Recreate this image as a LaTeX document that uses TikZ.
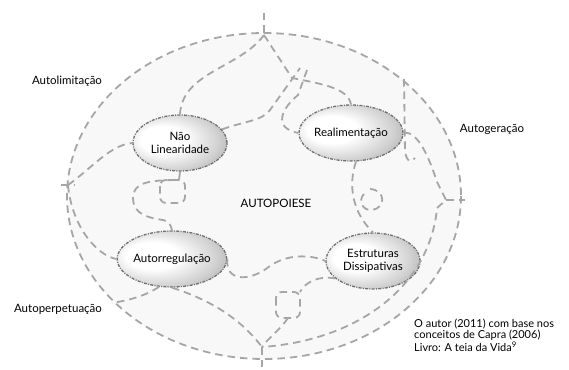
\documentclass[tikz,border=0pt]{standalone}
\usepackage{fontspec}
\setmainfont{Lato}
\usetikzlibrary{shapes.geometric}
\definecolor{dashgray}{HTML}{A6A6A6}
\definecolor{rimgray}{HTML}{707070}
\definecolor{discgray}{HTML}{F8F8F8}
\pgfdeclareradialshading{bub}{\pgfpoint{-12bp}{4bp}}{%
  color(0bp)=(white); color(12bp)=(white); color(26bp)=(black!18);
  color(40bp)=(black!42); color(50bp)=(black!50)}
\tikzset{
  dl/.style={draw=dashgray, line width=1.8pt, dash pattern=on 7.5pt off 5pt},
  bubble/.style={ellipse, draw=rimgray, line width=1.3pt,
    dash pattern=on 3pt off 1.3pt on 1pt off 1.3pt,
    shading=bub,
    minimum width=94pt, minimum height=56pt, inner sep=0pt, align=center,
    font=\fontsize{11.5}{12.5}\selectfont},
  lbl/.style={font=\fontsize{11.5}{13}\selectfont, inner sep=0pt}
}
\begin{document}
\begin{tikzpicture}[x=1pt,y=-1pt]
\useasboundingbox (0,0) rectangle (569,369);
\fill[white] (0,0) rectangle (569,369);
% outer ellipse
\fill[discgray] (264,196) ellipse [x radius=197, y radius=163];
\draw[dl] (264,196) ellipse [x radius=197, y radius=163];
% junction points
\coordinate (T) at (264,35);
\coordinate (Ttop) at (264,13);
\coordinate (B) at (262,347);
\coordinate (Bbot) at (262,369);
\coordinate (L) at (68,185);
\coordinate (Lout) at (61,185);
\coordinate (R) at (446,200);
\coordinate (Rout) at (465,200);
\coordinate (Rv) at (404,79);
% nodes
\node[bubble] (nl) at (180,143) {Não\\Linearidade};
\node[bubble] (re) at (351,133) {Realimentação};
\node[bubble] (ar) at (172,259) {Autorregulação};
\node[bubble] (ed) at (373,261) {Estruturas\\Dissipativas};
\node[lbl] (ap) at (276,203) {AUTOPOIESE};
\node[lbl] (al) at (67,81) {Autolimitação};
\node[lbl] (ag) at (492,129) {Autogeração};
\node[lbl] (apv) at (58,309) {Autoperpetuação};
\node[lbl, anchor=north west, align=left, font=\fontsize{11}{9.4}\selectfont] (cr) at (414,319)
  {O autor (2011) com base nos\\conceitos de Capra (2006)\\Livro: A teia da Vida\textsuperscript{9}};
% ticks
\draw[dl] (Ttop) -- (T);
\draw[dl] (B) -- (Bbot);
\draw[dl] (Lout) -- (75,185);
\draw[dl] (R) -- (Rout);
% top connectors
\draw[dl] (T) .. controls (240,68) and (182,72) .. (nl.north);
\draw[dl] (T) -- (292,78) .. controls (322,84) and (348,88) .. (re.north);
\draw[dl] (nl.18) .. controls (245,121) and (262,121) .. (270,110) -- (300,68);
\draw[dl] (307,70) -- (298,95) .. controls (282,108) and (272,128) .. (re.west);
% right side
\draw[dl] (Rv) -- (405,152) .. controls (407,162) and (411,163) .. (415,158);
\draw[dl] (re.east) .. controls (418,130) and (430,160) .. (437,182) -- (R) -- (437,208)
  .. controls (430,285) and (360,340) .. (B);
% left side
\draw[dl] (L) .. controls (92,168) and (110,145) .. (nl.west);
\draw[dl] (L) .. controls (72,228) and (98,256) .. (ar.west);
\draw[dl] (ar.245) .. controls (145,296) and (130,300) .. (112,303);
% middle left loop
\draw[dl] (nl.south) -- (179,180) .. controls (150,180) and (133,182) .. (133,198)
  .. controls (133,215) and (150,218) .. (163,220) .. controls (170,222) and (171,226) .. (ar.north);
\draw[dl, rounded corners=6pt] (160,180) rectangle (185,203);
% middle right
\draw[dl] (re.-80) .. controls (348,185) and (352,212) .. (ed.north);
\draw[dl] (370,189) .. controls (386,190) and (386,208) .. (372,210) .. controls (362,211) and (358,200) .. (364,194);
% bottom
\draw[dl] (ar.east) .. controls (225,282) and (250,282) .. (270,266) .. controls (290,252) and (315,256) .. (ed.west);
\draw[dl] (ar.south) .. controls (210,300) and (240,318) .. (B);
\draw[dl] (ed.205) .. controls (320,275) and (305,282) .. (300,292);
\draw[dl, rounded corners=6pt] (276,292) rectangle (300,318);
\draw[dl] (288,318) .. controls (280,330) and (268,338) .. (B);
\end{tikzpicture}
\end{document}
